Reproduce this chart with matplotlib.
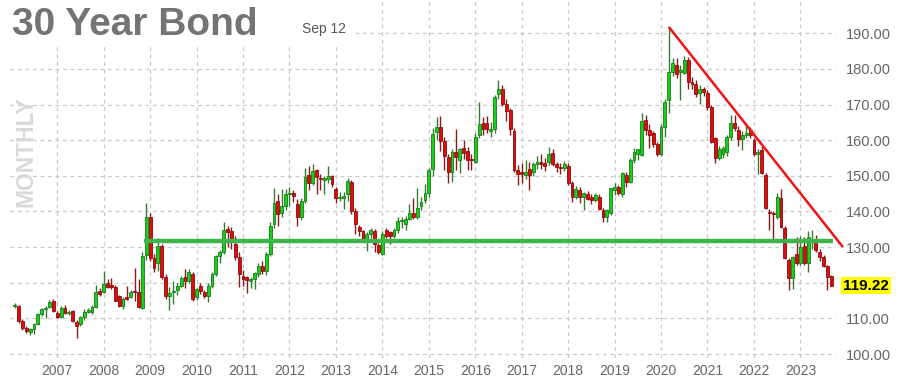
import numpy as np
import matplotlib.pyplot as plt
from matplotlib.patches import Rectangle

# -------------------------------------------------
# Data: monthly candles, Feb 2006 .. Sep 2023
# -------------------------------------------------

FIRST_MONTH = 1   # months after Jan 2006

opens = [
    113.5, 113.4, 109.4, 107.3, 106.2, 107.0, 108.5, 111.2, 112.5, 113.2, 114.9,          # 2006
    111.6, 110.5, 113.0, 111.4, 112.0, 108.9, 108.4, 110.5, 111.9, 111.8, 113.1, 117.7,   # 2007
    117.4, 119.8, 119.5, 118.8, 116.2, 113.6, 116.0, 116.0, 117.4, 117.4, 112.9, 127.8,   # 2008
    138.5, 127.0, 125.5, 130.2, 121.5, 116.2, 117.3, 118.0, 119.2, 121.5, 120.6, 122.5,   # 2009
    116.0, 119.2, 117.4, 116.4, 119.2, 122.5, 127.6, 128.6, 135.0, 134.6, 130.9, 127.2,   # 2010
    122.0, 121.5, 120.5, 121.0, 122.5, 124.8, 123.2, 128.1, 136.5, 143.0, 139.7, 141.6,   # 2011
    144.9, 145.3, 142.0, 138.4, 143.0, 150.3, 148.1, 151.6, 149.2, 148.9, 149.1, 150.0,   # 2012
    146.3, 143.7, 143.9, 144.9, 148.4, 140.2, 135.7, 134.4, 132.0, 133.7, 134.6, 130.7,   # 2013
    128.1, 134.8, 134.2, 133.2, 134.8, 137.2, 136.5, 137.9, 139.7, 138.4, 141.4, 143.2,   # 2014
    145.1, 152.0, 162.2, 163.6, 159.9, 155.3, 151.1, 156.7, 154.4, 157.8, 157.0, 154.8,   # 2015
    154.0, 161.6, 164.7, 164.7, 162.7, 163.1, 172.9, 174.5, 170.3, 168.4, 162.7, 151.6,   # 2016
    151.1, 150.1, 152.0, 151.1, 153.4, 153.9, 153.6, 153.9, 156.4, 153.4, 152.6, 152.3,   # 2017
    152.9, 148.0, 144.0, 146.1, 144.2, 145.0, 144.2, 143.3, 144.2, 140.5, 138.4, 139.5,   # 2018
    146.0, 146.8, 145.0, 150.3, 148.4, 154.4, 156.2, 155.8, 165.8, 162.8, 161.9, 158.9,   # 2019
    156.0, 163.7, 171.2, 179.1, 181.1, 179.2, 178.8, 182.4, 176.4, 175.9, 173.3, 174.4,   # 2020
    173.3, 169.3, 160.6, 154.9, 156.0, 156.6, 160.8, 164.9, 162.8, 160.4, 161.4, 162.8,   # 2021
    160.0, 156.0, 157.2, 150.2, 139.8, 139.6, 138.4, 143.7, 135.3, 126.4, 121.3, 128.2,   # 2022
    125.5, 130.4, 125.5, 131.3, 132.0, 128.6, 127.2, 124.7, 121.8,                        # 2023
]
highs = [
    114.2, 113.8, 109.8, 107.8, 107.2, 108.8, 111.5, 113.0, 113.4, 115.2, 115.4,
    112.2, 113.6, 113.8, 112.4, 112.4, 109.5, 110.6, 112.5, 113.0, 113.8, 119.4, 118.4,
    123.3, 121.0, 121.2, 119.5, 116.6, 116.0, 119.0, 118.0, 124.0, 121.0, 128.5, 142.5,
    139.7, 128.2, 132.6, 130.8, 122.5, 118.8, 120.5, 120.0, 121.8, 123.9, 123.8, 123.0,
    118.5, 119.8, 118.0, 119.8, 123.0, 127.8, 129.2, 137.1, 135.8, 135.6, 133.2, 128.5,
    123.5, 122.0, 121.5, 123.0, 125.5, 126.0, 128.5, 137.0, 146.7, 145.0, 146.3, 146.3,
    147.0, 146.0, 143.5, 143.8, 152.3, 152.8, 153.2, 152.0, 150.5, 150.0, 152.8, 150.3,
    146.8, 145.5, 145.5, 149.5, 148.8, 141.0, 136.3, 134.8, 134.2, 135.5, 135.0, 131.2,
    134.5, 135.5, 134.6, 135.5, 138.5, 138.5, 138.6, 142.0, 143.9, 146.5, 144.0, 147.8,
    152.2, 163.5, 166.4, 166.8, 161.0, 156.0, 157.5, 163.2, 157.8, 160.1, 158.0, 156.0,
    162.0, 170.6, 166.5, 166.9, 165.0, 172.8, 177.0, 175.5, 171.5, 169.0, 163.5, 153.0,
    153.5, 154.4, 154.0, 154.0, 155.7, 156.0, 155.0, 158.2, 157.5, 154.0, 153.5, 154.2,
    153.5, 148.5, 147.2, 146.8, 145.5, 145.8, 144.8, 145.3, 144.8, 141.0, 140.8, 146.6,
    148.0, 147.3, 151.0, 151.0, 155.0, 157.8, 157.5, 167.5, 167.0, 164.5, 162.5, 159.5,
    164.5, 171.5, 191.9, 183.0, 183.0, 181.0, 183.5, 183.3, 177.8, 177.0, 175.5, 175.0,
    174.0, 169.8, 161.0, 158.5, 158.5, 161.5, 167.0, 167.0, 164.0, 162.5, 164.3, 163.8,
    160.5, 157.5, 158.5, 150.8, 140.8, 140.2, 145.2, 146.2, 135.8, 127.0, 127.6, 132.8,
    133.0, 132.8, 134.6, 134.8, 133.3, 129.5, 127.8, 125.0, 122.2,
]
lows = [
    112.9, 108.8, 106.6, 105.8, 105.4, 105.6, 108.2, 110.6, 110.0, 112.8, 111.8,
    110.0, 110.2, 111.2, 111.0, 109.0, 104.6, 108.0, 109.6, 111.4, 111.2, 112.8, 116.4,
    117.0, 118.5, 118.3, 114.8, 113.3, 112.6, 115.2, 115.6, 115.0, 112.8, 112.6, 126.5,
    126.2, 123.0, 123.2, 121.0, 115.5, 112.3, 114.0, 116.5, 118.8, 118.5, 119.8, 115.0,
    115.2, 116.8, 115.6, 114.5, 118.5, 122.0, 125.5, 128.0, 130.0, 129.5, 126.5, 118.8,
    119.0, 117.0, 118.5, 118.2, 121.5, 122.5, 122.2, 127.5, 135.5, 136.0, 138.5, 140.5,
    141.5, 142.8, 135.8, 137.5, 142.5, 146.0, 147.5, 145.0, 146.0, 145.0, 148.0, 146.8,
    142.5, 143.0, 140.7, 143.0, 139.3, 133.7, 133.2, 131.5, 129.0, 132.5, 128.6, 128.1,
    127.8, 132.5, 131.0, 132.5, 134.0, 135.5, 134.8, 137.5, 138.0, 138.0, 140.5, 142.5,
    144.2, 150.0, 160.0, 157.0, 151.6, 148.0, 148.4, 151.6, 150.8, 154.8, 151.6, 151.6,
    153.5, 160.5, 161.6, 162.0, 160.8, 162.0, 171.5, 169.5, 165.5, 161.6, 151.0, 147.4,
    148.0, 149.0, 146.0, 150.0, 152.0, 152.0, 151.5, 153.0, 152.8, 151.2, 150.6, 151.5,
    147.5, 142.6, 143.5, 142.3, 140.5, 143.2, 142.0, 142.8, 140.5, 137.0, 137.0, 139.0,
    144.5, 144.5, 144.0, 147.0, 148.0, 153.5, 154.5, 155.5, 161.5, 157.9, 158.0, 155.5,
    155.5, 160.9, 167.5, 178.0, 177.5, 171.4, 178.5, 174.5, 174.5, 172.2, 170.3, 172.5,
    168.5, 159.3, 153.6, 154.5, 155.0, 155.5, 160.0, 162.5, 158.5, 157.3, 160.5, 160.5,
    155.5, 150.5, 150.4, 140.7, 134.8, 131.8, 138.0, 135.3, 126.7, 117.9, 118.2, 125.0,
    125.0, 125.0, 123.0, 129.5, 128.6, 126.0, 124.5, 117.9, 119.0,
]
closes = [
    113.8, 109.4, 107.2, 106.4, 106.9, 108.5, 111.2, 112.7, 113.0, 114.6, 112.2,
    110.3, 113.0, 111.4, 111.8, 109.3, 107.9, 110.3, 111.7, 112.3, 113.2, 117.4, 116.8,
    119.6, 118.9, 118.9, 115.0, 113.6, 115.5, 115.5, 117.4, 117.3, 113.1, 127.5, 138.5,
    127.0, 124.0, 130.2, 121.5, 116.2, 117.2, 117.8, 119.2, 121.2, 120.5, 123.0, 115.5,
    118.3, 117.8, 116.3, 119.2, 122.5, 127.4, 128.6, 134.9, 134.2, 132.3, 127.2, 122.5,
    121.1, 120.8, 121.0, 122.7, 124.8, 123.2, 128.1, 136.0, 142.5, 139.3, 141.6, 144.9,
    145.3, 144.4, 138.4, 143.0, 149.7, 148.1, 151.4, 149.7, 149.0, 149.5, 150.0, 147.7,
    143.9, 144.0, 144.3, 148.6, 140.2, 136.5, 134.6, 132.3, 133.7, 134.9, 130.9, 128.6,
    133.7, 133.2, 133.2, 134.8, 137.2, 137.5, 138.0, 139.7, 138.4, 141.1, 142.8, 145.1,
    151.6, 161.8, 163.6, 159.9, 155.7, 151.1, 156.7, 155.3, 157.5, 156.5, 154.4, 154.4,
    161.0, 164.5, 163.1, 163.1, 163.1, 172.0, 174.3, 170.3, 168.2, 163.1, 151.6, 150.6,
    150.6, 151.1, 150.3, 153.2, 153.9, 153.3, 152.7, 156.2, 153.4, 152.5, 152.3, 153.2,
    148.0, 144.0, 146.4, 144.2, 145.2, 143.6, 143.1, 144.5, 140.8, 138.4, 140.3, 146.5,
    147.0, 145.2, 150.7, 148.4, 154.4, 156.7, 157.5, 165.4, 162.8, 161.4, 159.0, 156.2,
    163.7, 170.8, 179.2, 181.6, 178.7, 179.7, 182.4, 176.2, 175.7, 173.1, 174.4, 173.6,
    169.3, 159.6, 155.0, 157.6, 157.9, 160.8, 164.8, 163.3, 160.3, 161.4, 161.9, 161.4,
    156.1, 156.7, 150.7, 141.0, 139.5, 139.2, 144.0, 135.6, 126.9, 121.3, 127.2, 125.6,
    130.0, 125.5, 132.8, 131.9, 129.1, 127.2, 124.7, 121.6, 119.22,
]

years = list(range(2007, 2024))
price_ticks = [100, 110, 120, 130, 140, 150, 160, 170, 180, 190]
last_price = closes[-1]

support_level = 131.6
support_span = (34.5, 212.4)          # months after Jan 2006
trend_points = ([170.0, 215.0], [191.8, 130.0])

# -------------------------------------------------
# Styling
# -------------------------------------------------

UP_BODY, UP_EDGE, UP_WICK = "#16d116", "#1a7a1a", "#2f7f2f"
DN_BODY, DN_EDGE, DN_WICK = "#e00c0c", "#8a0d0d", "#8a1a1a"
GRID = "#c8c8c8"
LABEL = "#666666"

plt.rcParams["font.family"] = ["Liberation Sans", "DejaVu Sans"]

fig = plt.figure(figsize=(9, 3.82), dpi=100)
ax = fig.add_axes([10 / 900, 24 / 382, 826 / 900, 358 / 382])

x = np.arange(FIRST_MONTH, FIRST_MONTH + len(opens))
o = np.array(opens)
h = np.array(highs)
l = np.array(lows)
c = np.array(closes)
up = c >= o

# wicks
ax.vlines(x, l, h, colors=np.where(up, UP_WICK, DN_WICK), lw=1.0, zorder=2)

# bodies
bottom = np.minimum(o, c)
height = np.maximum(np.abs(c - o), 0.3)
ax.bar(x, height, bottom=bottom, width=0.74,
       color=np.where(up, UP_BODY, DN_BODY),
       edgecolor=np.where(up, UP_EDGE, DN_EDGE), lw=0.6, zorder=3)

# support line and falling trend line
ax.hlines(support_level, *support_span, color="#3db54a", lw=3.2, zorder=4)
ax.plot(*trend_points, color="#f01414", lw=1.8, zorder=4, clip_on=False,
        solid_capstyle="butt")

# axes
ax.set_xlim(-0.2, 213.2)
ax.set_ylim(98.88, 199.35)
for s in ax.spines.values():
    s.set_visible(False)

ax.set_xticks([(yr - 2006) * 12 for yr in years])
ax.set_xticklabels([str(yr) for yr in years])
ax.set_yticks(price_ticks)
ax.set_yticklabels(["" if p == 120 else f"{p:.2f}" for p in price_ticks])
ax.yaxis.tick_right()
ax.tick_params(axis="both", length=0, labelsize=10.5, labelcolor=LABEL)
ax.tick_params(axis="x", pad=4, labelsize=10)
ax.tick_params(axis="y", pad=7)

ax.set_axisbelow(True)
ax.grid(True, color=GRID, lw=0.9, linestyle=(0, (3, 3)))

# white strip behind the title
ax.add_patch(Rectangle((0, 1 - 45 / 382), 355 / 900, 45 / 382,
                       transform=fig.transFigure, facecolor="white",
                       edgecolor="none", zorder=1, clip_on=False))

# last price tag
ax.text(1.0 + 7 / 826, last_price, f"{last_price:.2f}",
        transform=ax.get_yaxis_transform(), ha="left", va="center",
        fontsize=11, fontweight="bold", color="black",
        bbox=dict(boxstyle="square,pad=0.12", facecolor="#ffff00", edgecolor="none"))

# texts
fig.text(12 / 900, 1 - 35 / 382, "30 Year Bond", fontsize=28, fontweight="bold",
         color="#747474", va="baseline", ha="left")
fig.text(302 / 900, 1 - 33 / 382, "Sep 12", fontsize=10, color="#555555",
         va="baseline", ha="left")
fig.text(26 / 900, 1 - 152 / 382, "MONTHLY", fontsize=16.5, fontweight="bold",
         color="#d9d9d9", rotation=90, ha="center", va="center")

fig.savefig("out.png", dpi=100)
